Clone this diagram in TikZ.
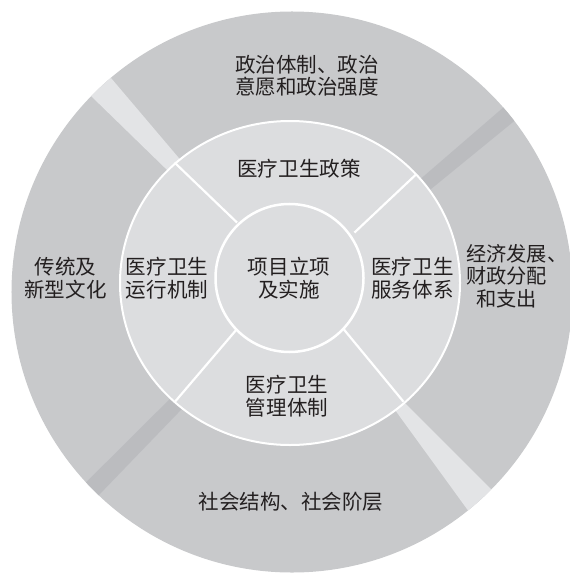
\documentclass[tikz,border=0pt]{standalone}
\usepackage{fontspec}
\newfontfamily\cjk{Noto Sans CJK SC}
\definecolor{outerring}{HTML}{C8C9CB}
\definecolor{midring}{HTML}{DCDDDF}
\definecolor{lightstrip}{HTML}{E3E4E6}
\definecolor{darkstrip}{HTML}{BBBCBF}
\definecolor{txt}{HTML}{231F20}
\tikzset{
  lbl/.style={font=\cjk\fontsize{20.6}{22.5}\selectfont, text=txt, align=center, inner sep=0pt},
  divider/.style={draw=white, line width=2.2bp},
}
\begin{document}
\begin{tikzpicture}[x=1bp,y=-1bp]
\useasboundingbox (0,0) rectangle (570,575);
% outer ring
\fill[outerring] (292,292) circle[radius=280.5bp];
\begin{scope}
  \clip (292,292) circle[radius=280.5bp];
  \fill[lightstrip] (202,204) -- (15,22) -- (44,-1) -- (211.5,196.5) -- cycle;
  \fill[darkstrip] (381.7,212.5) -- (581.5,40) -- (600,51) -- (388.8,223.5) -- cycle;
  \fill[lightstrip] (358,359) -- (539.6,609) -- (577.9,576.3) -- (360,358) -- cycle;
  \fill[darkstrip] (210,359) -- (5,563) -- (18,579) -- (222.8,366.5) -- cycle;
\end{scope}
% middle ring
\fill[midring, draw=white, line width=2bp] (290,283) ellipse[x radius=170bp, y radius=162bp];
\coordinate (ulA) at (174.5,162.5);
\coordinate (ulB) at (237,222.5);
\coordinate (urA) at (416,174.5);
\coordinate (urB) at (354.4,232.6);
\coordinate (llA) at (175,401.7);
\coordinate (llB) at (237,329);
\coordinate (lrA) at (403.5,401.7);
\coordinate (lrB) at (343.5,329);
\draw[divider] (ulA) -- (ulB);
\draw[divider] (urA) -- (urB);
\draw[divider] (llA) -- (llB);
\draw[divider] (lrA) -- (lrB);
% inner circle
\fill[midring, draw=white, line width=2.5bp] (289.5,278) circle[radius=74bp];
% labels
\node[lbl] (pol) at (307,75.5) {政治体制、政治\\意愿和政治强度};
\node[lbl] (zc) at (299,169) {医疗卫生政策};
\node[lbl] (cult) at (65.5,278) {传统及\\新型文化};
\node[lbl] (yx) at (167,278) {医疗卫生\\运行机制};
\node[lbl] (xm) at (289,278) {项目立项\\及实施};
\node[lbl] (fw) at (412.5,278) {医疗卫生\\服务体系};
\node[lbl, font=\cjk\fontsize{20.3}{22.5}\selectfont, align=left, anchor=west] (econ) at (466,276) {经济发展、\\财政分配\\\hspace{0.5em}和支出};
\node[lbl] (gl) at (287,396) {医疗卫生\\管理体制};
\node[lbl] (soc) at (291,501.5) {社会结构、社会阶层};
\end{tikzpicture}
\end{document}
